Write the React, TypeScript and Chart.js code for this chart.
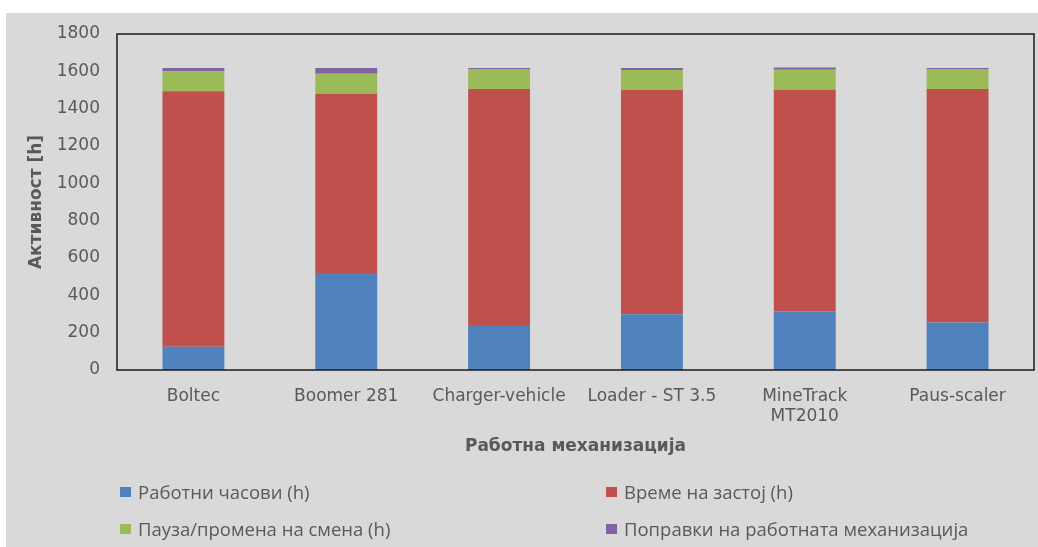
import React, { useEffect, useRef } from "react";
import { Chart, registerables } from "chart.js";

Chart.register(...registerables);

const categories: (string | string[])[] = [
  "Boltec",
  "Boomer 281",
  "Charger-vehicle",
  "Loader - ST 3.5",
  ["MineTrack", "MT2010"],
  "Paus-scaler",
];
const workingHours = [125, 520, 241, 298, 314, 255];
const downtime = [1368, 960, 1264, 1202, 1188, 1250];
const shiftPause = [107, 107, 107, 107, 107, 107];
const repairs = [18, 31, 6, 11, 11, 6];

const seriesNames = [
  "Работни часови (h)",
  "Време на застој (h)",
  "Пауза/промена на смена (h)",
  "Поправки на работната механизација",
];
const seriesColors = ["#4F81BD", "#C0504D", "#9BBB59", "#8064A2"];
const yTicks = { min: 0, max: 1800, step: 200 };

const TEXT = "#595959";
const FONT = "'DejaVu Sans', sans-serif";

const frame = {
  id: "frame",
  afterDraw(chart: any) {
    const { ctx, chartArea: a } = chart;
    ctx.save();
    ctx.strokeStyle = "#1a1a1a";
    ctx.lineWidth = 1.5;
    ctx.strokeRect(a.left, a.top, a.right - a.left, a.bottom - a.top);
    ctx.restore();
  },
};

export default function App() {
  const ref = useRef<HTMLCanvasElement>(null);
  useEffect(() => {
    const values = [workingHours, downtime, shiftPause, repairs];
    const chart = new Chart(ref.current!, {
      type: "bar",
      data: {
        labels: categories,
        datasets: values.map((d, i) => ({
          label: seriesNames[i],
          data: d,
          backgroundColor: seriesColors[i],
          borderWidth: 0,
          barPercentage: 0.405,
          categoryPercentage: 1,
        })),
      },
      options: {
        responsive: false,
        animation: false,
        layout: { padding: { left: 26, top: 34, right: 4, bottom: 90 } },
        plugins: { legend: { display: false }, tooltip: { enabled: false } },
        scales: {
          x: {
            stacked: true,
            grid: { display: false, drawTicks: false },
            border: { display: false },
            ticks: { color: TEXT, font: { family: FONT, size: 17 }, padding: 16, maxRotation: 0, autoSkip: false },
            title: {
              display: true,
              text: "Работна механизација",
              color: TEXT,
              font: { family: FONT, size: 17, weight: "bold" },
              padding: 0,
            },
            afterFit(scale: any) {
              scale.height = 87;
            },
          },
          y: {
            stacked: true,
            min: yTicks.min,
            max: yTicks.max,
            grid: { display: false, drawTicks: false },
            border: { display: false },
            ticks: {
              stepSize: yTicks.step,
              color: TEXT,
              font: { family: FONT, size: 17 },
              padding: 17,
              callback: (v: any) => String(v),
            },
            title: {
              display: true,
              text: "Активност [h]",
              color: TEXT,
              font: { family: FONT, size: 17, weight: "bold" },
              padding: 0,
            },
            afterFit(scale: any) {
              scale.width = 91;
            },
          },
        },
      },
      plugins: [frame],
    });
    return () => chart.destroy();
  }, []);

  const legendPos = [
    { x: 120, y: 492 },
    { x: 606, y: 492 },
    { x: 120, y: 529 },
    { x: 606, y: 529 },
  ];

  return (
    <div style={{ position: "absolute", left: 0, top: 0, width: 1038, height: 547, overflow: "hidden" }}>
      <div style={{ position: "absolute", left: 6, top: 13, right: 0, bottom: 0, background: "#D9D9D9" }} />
      <canvas ref={ref} width={1038} height={547} style={{ position: "absolute", left: 0, top: 0, width: 1038, height: 547 }} />
      {seriesNames.map((n, i) => (
        <div
          key={n}
          style={{
            position: "absolute",
            left: legendPos[i].x,
            top: legendPos[i].y - 13,
            height: 24,
            display: "flex",
            alignItems: "center",
            fontFamily: "'Open Sans', sans-serif",
            fontSize: 18.5,
            color: TEXT,
            whiteSpace: "nowrap",
          }}
        >
          <span style={{ display: "inline-block", width: 11, height: 10, background: seriesColors[i], marginRight: 7, marginTop: 1 }} />
          <span>{n}</span>
        </div>
      ))}
    </div>
  );
}
